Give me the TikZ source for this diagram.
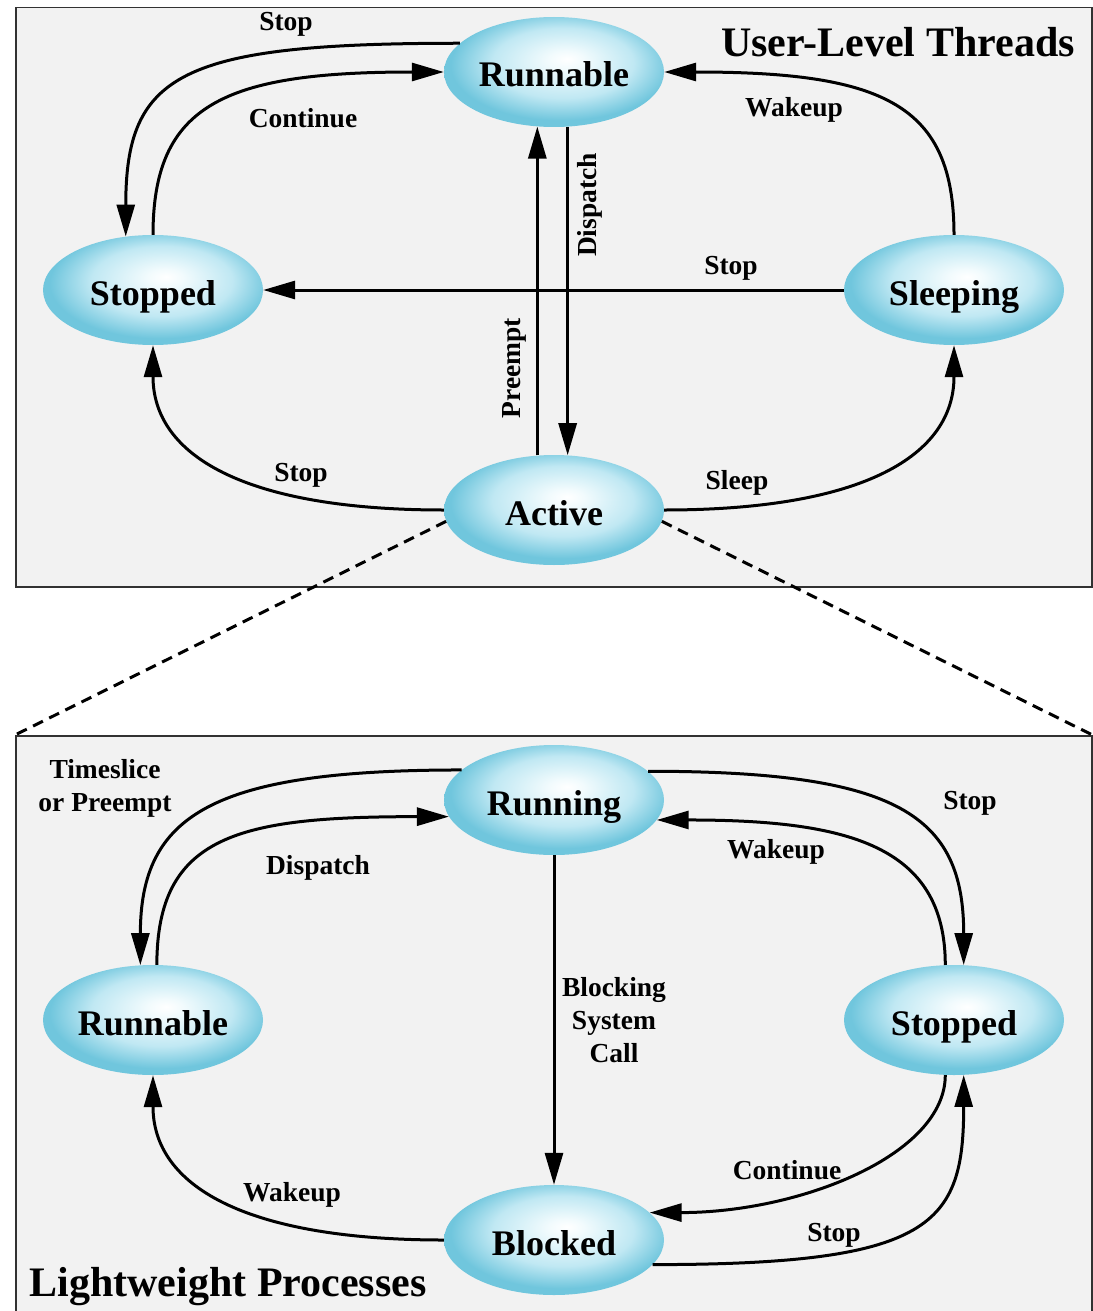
\documentclass[tikz,border=0pt]{standalone}
\usepackage{fontspec}
\setmainfont{Liberation Serif}
\usetikzlibrary{shapes.geometric,arrows.meta}
\definecolor{ellc}{RGB}{112,198,221}
\definecolor{ellm}{RGB}{192,232,243}
\definecolor{elli}{RGB}{242,251,253}
\definecolor{boxbg}{RGB}{242,242,242}
\definecolor{boxln}{RGB}{50,50,50}
\pgfdeclareradialshading{ellshade}{\pgfpoint{3bp}{6bp}}{color(0bp)=(white); color(4bp)=(elli); color(16bp)=(ellm); color(25bp)=(ellc); color(50bp)=(ellc)}
\newcommand\mystf{\fontsize{36}{40}\selectfont\bfseries}
\newcommand\mylbl{\fontsize{27.5}{33}\selectfont\bfseries}
\newcommand\myttl{\fontsize{42}{46}\selectfont\bfseries}
\begin{document}
\begin{tikzpicture}[x=1pt,y=-1pt,
  state/.style={ellipse, minimum width=220pt, minimum height=110pt, inner sep=0pt, shading=ellshade, font=\mystf, text height=30pt, text depth=0pt},
  tr/.style={line width=3pt, -{Triangle[length=32pt,width=18pt]}},
  dsh/.style={line width=3pt, dash pattern=on 11pt off 7pt},
  lbl/.style={font=\mylbl, inner sep=0pt},
  ttl/.style={font=\myttl, inner sep=0pt},
  panel/.style={draw=boxln, fill=boxbg, line width=1.5pt, inner sep=0pt, anchor=north west}]
\useasboundingbox (0,0) rectangle (1092,1311);
\fill[white] (0,0) rectangle (1092,1311);
% panels
\node[panel, minimum width=1076pt, minimum height=579pt] (topbox) at (15,7) {};
\node[panel, minimum width=1076pt, minimum height=600pt] (botbox) at (15,735) {};
% top states
\node[state] (tRun) at (554,72) {Runnable};
\node[state] (tStop) at (153,290) {Stopped};
\node[state] (tSleep) at (954,290) {Sleeping};
\node[state] (tAct) at (554,510) {Active};
% bottom states
\node[state] (bRun) at (554,800) {Running};
\node[state] (bRnb) at (153,1020) {Runnable};
\node[state] (bStp) at (954,1020) {Stopped};
\node[state] (bBlk) at (554,1240) {Blocked};
% dashed zoom lines
\draw[dsh] (tAct.186) -- (botbox.north west);
\draw[dsh] (tAct.-6) -- (botbox.north east);
% top transitions
\draw[tr] (tRun.163.5) .. controls +(-280,0) and +(0,-163) .. (tStop.117.8);
\draw[tr] (tStop.north) .. controls +(0,-130) and +(-220,0) .. (tRun.west);
\draw[tr] (tSleep.north) .. controls +(0,-130) and +(220,0) .. (tRun.east);
\draw[tr] (tSleep.west) -- (tStop.east);
\draw[tr] (tRun.-76.7) -- (tAct.76.7);
\draw[tr] (tAct.107.4) -- (tRun.-107.4);
\draw[tr] (tAct.west) .. controls +(-200,0) and +(0,110) .. (tStop.south);
\draw[tr] (tAct.east) .. controls +(200,0) and +(0,110) .. (tSleep.south);
% bottom transitions
\draw[tr] (bRun.162.8) .. controls +(-250,0) and +(0,-150) .. (bRnb.103.4);
\draw[tr] (bRnb.86) .. controls +(0,-130) and +(-210,0) .. (bRun.189.8);
\draw[tr] (bRun.17.2) .. controls +(250,0) and +(0,-150) .. (bStp.80.7);
\draw[tr] (bStp.99.3) .. controls +(0,-120) and +(190,0) .. (bRun.-11);
\draw[tr] (bRun.south) -- (bBlk.north);
\draw[tr] (bBlk.west) .. controls +(-200,0) and +(0,110) .. (bRnb.south);
\draw[tr] (bStp.-99.3) .. controls +(0,80) and +(150,0) .. (bBlk.16);
\draw[tr] (bBlk.-14.3) .. controls +(280,0) and +(0,150) .. (bStp.-80.7);
% titles
\node[ttl] (ttop) at (898,42) {User-Level Threads};
\node[ttl] (tbot) at (228,1287) {Lightweight Processes};
% top labels
\node[lbl] (l1) at (286,24) {Stop};
\node[lbl] (l2) at (303,118) {Continue};
\node[lbl] (l3) at (794,110) {Wakeup};
\node[lbl] (l4) at (731,268) {Stop};
\node[lbl, rotate=90] (l5) at (590,205) {Dispatch};
\node[lbl, rotate=90] (l6) at (514,368) {Preempt};
\node[lbl] (l7) at (301,475) {Stop};
\node[lbl] (l8) at (737,483) {Sleep};
% bottom labels
\node[lbl, align=center] (m1) at (105,788) {Timeslice\\or Preempt};
\node[lbl] (m2) at (318,868) {Dispatch};
\node[lbl] (m3) at (970,803) {Stop};
\node[lbl] (m4) at (776,852) {Wakeup};
\node[lbl, align=center] (m5) at (614,1020) {Blocking\\System\\Call};
\node[lbl] (m6) at (292,1195) {Wakeup};
\node[lbl] (m7) at (787,1170) {Continue};
\node[lbl] (m8) at (834,1235) {Stop};
\end{tikzpicture}
\end{document}
